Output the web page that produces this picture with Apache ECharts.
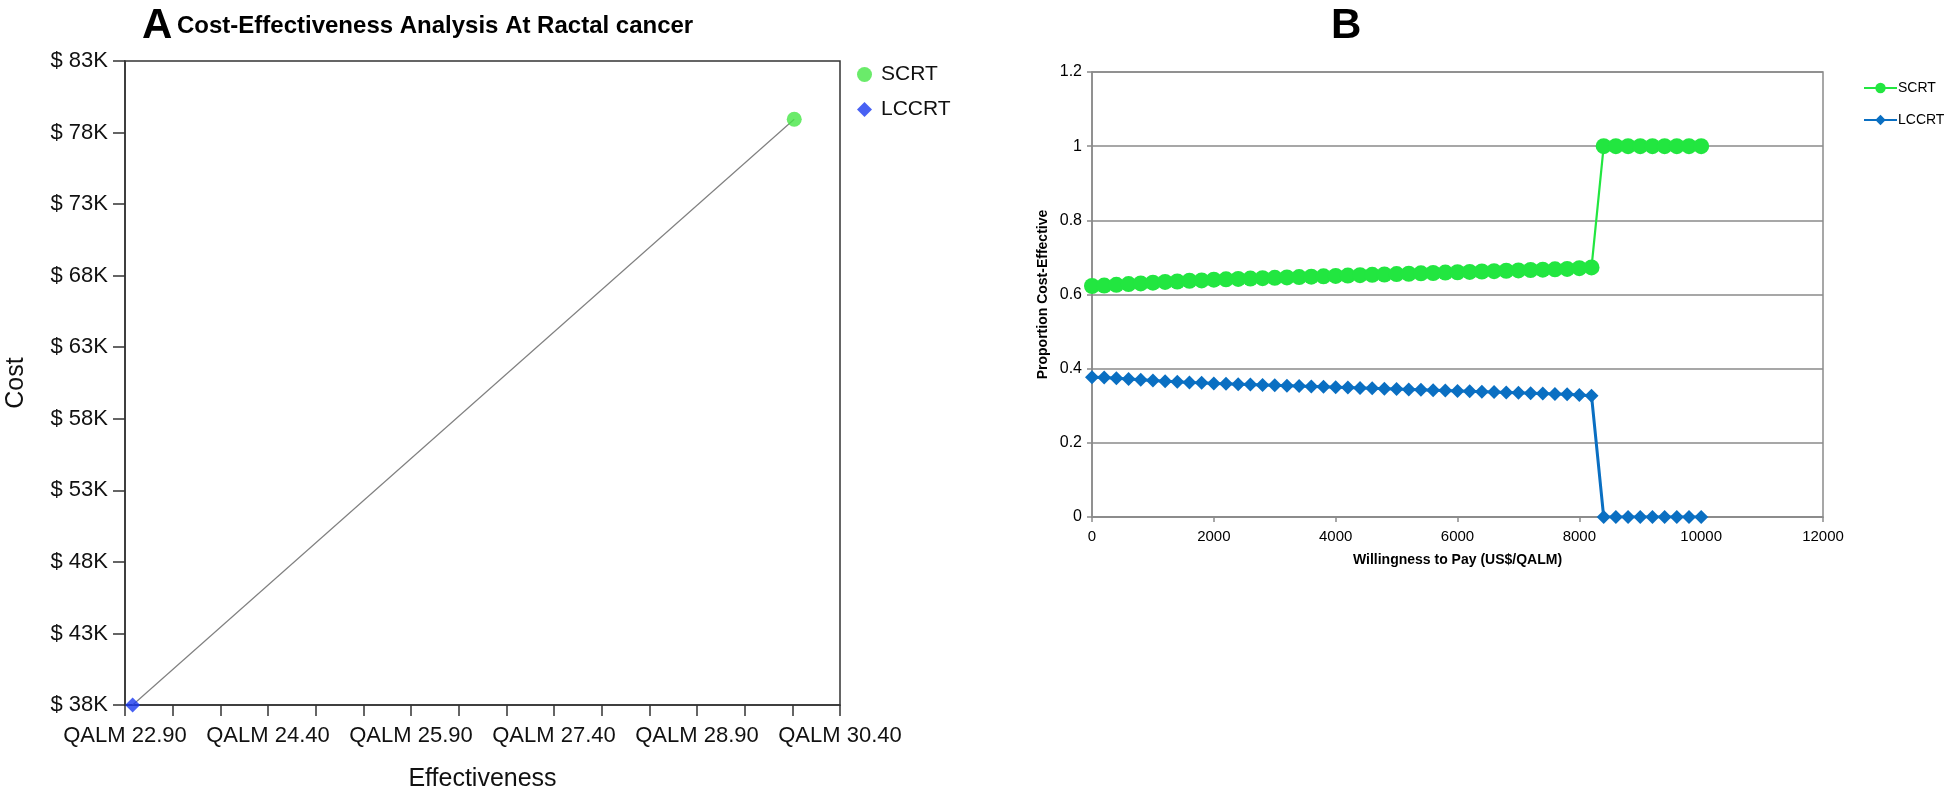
<!DOCTYPE html>
<html>
<head>
<meta charset="utf-8">
<script src="https://cdn.jsdelivr.net/npm/echarts@6/dist/echarts.min.js"></script>
<style>html,body{margin:0;padding:0;background:#fff}#c{width:1945px;height:790px}</style>
</head>
<body>
<div id="c"></div>
<script>
// ---- Panel A data ----
const strategiesA = ['SCRT', 'LCCRT'];
const effectivenessA = [29.92, 22.98];   // QALM
const costA = [78930, 38000];            // US$
const costTicks = [38000, 43000, 48000, 53000, 58000, 63000, 68000, 73000, 78000, 83000];
const effLabelTicks = [22.9, 24.4, 25.9, 27.4, 28.9, 30.4];
const effMinorTicks = [22.9, 23.4, 23.9, 24.4, 24.9, 25.4, 25.9, 26.4, 26.9, 27.4, 27.9, 28.4, 28.9, 29.4, 29.9, 30.4];

// ---- Panel B data ----
const wtp = [0,200,400,600,800,1000,1200,1400,1600,1800,2000,2200,2400,2600,2800,3000,3200,3400,3600,3800,4000,4200,4400,4600,4800,5000,5200,5400,5600,5800,6000,6200,6400,6600,6800,7000,7200,7400,7600,7800,8000,8200,8400,8600,8800,9000,9200,9400,9600,9800,10000];
const scrtProb = [0.623,0.624,0.626,0.628,0.630,0.632,0.634,0.635,0.637,0.638,0.640,0.641,0.642,0.643,0.644,0.645,0.646,0.647,0.648,0.649,0.650,0.651,0.652,0.653,0.654,0.655,0.656,0.657,0.658,0.659,0.660,0.661,0.662,0.663,0.664,0.665,0.666,0.667,0.668,0.669,0.671,0.673,1,1,1,1,1,1,1,1,1];
const lccrtProb = [0.377,0.376,0.374,0.372,0.370,0.368,0.366,0.365,0.363,0.362,0.360,0.359,0.358,0.357,0.356,0.355,0.354,0.353,0.352,0.351,0.350,0.349,0.348,0.347,0.346,0.345,0.344,0.343,0.342,0.341,0.340,0.339,0.338,0.337,0.336,0.335,0.334,0.333,0.332,0.331,0.329,0.327,0,0,0,0,0,0,0,0,0];

const F = 'Liberation Sans, Arial, Helvetica, sans-serif';

const chart = echarts.init(document.getElementById('c'), null, {renderer: 'canvas'});

const option = {
  backgroundColor: '#fff',
  animation: false,
  title: [
    {text: 'A', left: 137, top: 0, textStyle: {fontFamily: F, fontSize: 42, fontWeight: 'bold', color: '#000'}},
    {text: 'Cost-Effectiveness Analysis At Ractal cancer', left: 172, top: 9, textStyle: {fontFamily: F, fontSize: 24, fontWeight: 'bold', color: '#000'}},
    {text: 'B', left: 1326, top: 0, textStyle: {fontFamily: F, fontSize: 42, fontWeight: 'bold', color: '#000'}}
  ],
  legend: [
    {
      data: [{name: 'SCRT', icon: 'circle'}, {name: 'LCCRT', icon: 'diamond'}],
      orient: 'vertical', left: 852, top: 59, itemWidth: 15, itemHeight: 15, itemGap: 14,
      textStyle: {fontFamily: F, fontSize: 21, color: '#111', padding: [0, 0, 0, 4]}
    },
    {
      data: ['SCRT B', 'LCCRT B'],
      formatter: n => n.replace(' B', ''),
      orient: 'vertical', left: 1863, top: 81, padding: 0, itemWidth: 33, itemHeight: 13, itemGap: 18,
      textStyle: {fontFamily: F, fontSize: 14, color: '#000', padding: [0, 0, 0, -4]}
    }
  ],
  grid: [
    {left: 125, top: 61, width: 715, height: 644, show: true, borderColor: '#333', borderWidth: 1.5, backgroundColor: 'transparent', containLabel: false, outerBoundsMode: 'none'},
    {left: 1092, top: 72, width: 731, height: 445, show: true, borderColor: '#8a8a8a', borderWidth: 1.5, backgroundColor: 'transparent', containLabel: false, outerBoundsMode: 'none'}
  ],
  xAxis: [
    {
      gridIndex: 0, type: 'value', min: 22.9, max: 30.4, position: 'bottom',
      name: 'Effectiveness', nameLocation: 'middle', nameGap: 62,
      nameTextStyle: {fontFamily: F, fontSize: 25, color: '#111'},
      axisLine: {show: true, lineStyle: {color: '#333', width: 1.5}},
      axisTick: {show: true, interval: 0, length: 11, customValues: effMinorTicks, lineStyle: {color: '#333', width: 1.5}},
      axisLabel: {show: true, interval: 0, customValues: effLabelTicks, margin: 20, fontFamily: F, fontSize: 22, color: '#111',
        formatter: v => 'QALM ' + v.toFixed(2)},
      splitLine: {show: false}
    },
    {
      gridIndex: 1, type: 'value', min: 0, max: 12000, interval: 2000,
      name: 'Willingness to Pay (US$/QALM)', nameLocation: 'middle', nameGap: 36,
      nameTextStyle: {fontFamily: F, fontSize: 14, fontWeight: 'bold', color: '#000'},
      axisLine: {show: true, onZero: false, lineStyle: {color: '#8a8a8a', width: 1.5}},
      axisTick: {show: true, length: 5, lineStyle: {color: '#8a8a8a', width: 1.5}},
      axisLabel: {margin: 12, fontFamily: F, fontSize: 15, color: '#000', formatter: v => String(v)},
      splitLine: {show: false}
    }
  ],
  yAxis: [
    {
      gridIndex: 0, type: 'value', min: 38000, max: 83000,
      name: 'Cost', nameLocation: 'middle', nameGap: 96,
      nameTextStyle: {fontFamily: F, fontSize: 25, color: '#111'},
      axisLine: {show: true, lineStyle: {color: '#333', width: 1.5}},
      axisTick: {show: true, length: 12, customValues: costTicks, lineStyle: {color: '#333', width: 1.5}},
      axisLabel: {show: true, customValues: costTicks, margin: 17, fontFamily: F, fontSize: 22, color: '#111',
        formatter: v => '$ ' + Math.round(v / 1000) + 'K'},
      splitLine: {show: false}
    },
    {
      gridIndex: 1, type: 'value', min: 0, max: 1.2, interval: 0.2,
      name: 'Proportion Cost-Effective', nameLocation: 'middle', nameGap: 42,
      nameTextStyle: {fontFamily: F, fontSize: 14, fontWeight: 'bold', color: '#000'},
      axisLine: {show: true, lineStyle: {color: '#8a8a8a', width: 1.5}},
      axisTick: {show: true, length: 5, lineStyle: {color: '#8a8a8a', width: 1.5}},
      axisLabel: {margin: 10, fontFamily: F, fontSize: 16, color: '#000',
        formatter: v => String(Math.round(v * 10) / 10)},
      splitLine: {show: true, lineStyle: {color: '#8a8a8a', width: 1.5}}
    }
  ],
  series: [
    {
      name: 'frontier', type: 'line', xAxisIndex: 0, yAxisIndex: 0,
      data: effectivenessA.map((e, i) => [e, costA[i]]).sort((a, b) => a[0] - b[0]),
      symbol: 'none', lineStyle: {color: '#808080', width: 1.2}, z: 1, silent: true
    },
    {
      name: 'SCRT', type: 'scatter', xAxisIndex: 0, yAxisIndex: 0,
      data: [[effectivenessA[0], costA[0]]], symbol: 'circle', symbolSize: 15,
      itemStyle: {color: '#45e645'}, z: 3
    },
    {
      name: 'LCCRT', type: 'scatter', xAxisIndex: 0, yAxisIndex: 0,
      data: [[effectivenessA[1], costA[1]]], symbol: 'diamond', symbolSize: 15,
      itemStyle: {color: '#1a3af0'}, z: 3
    },
    {
      name: 'SCRT B', type: 'line', xAxisIndex: 1, yAxisIndex: 1,
      data: wtp.map((w, i) => [w, scrtProb[i]]),
      symbol: 'circle', symbolSize: 16, showSymbol: true,
      lineStyle: {color: '#22e640', width: 2.2}, itemStyle: {color: '#22e640'}, z: 3
    },
    {
      name: 'LCCRT B', type: 'line', xAxisIndex: 1, yAxisIndex: 1,
      data: wtp.map((w, i) => [w, lccrtProb[i]]),
      symbol: 'diamond', symbolSize: 14, showSymbol: true,
      lineStyle: {color: '#0a6fc2', width: 3}, itemStyle: {color: '#0a6fc2'}, z: 3
    }
  ]
};
chart.setOption(option);
</script>
</body>
</html>
